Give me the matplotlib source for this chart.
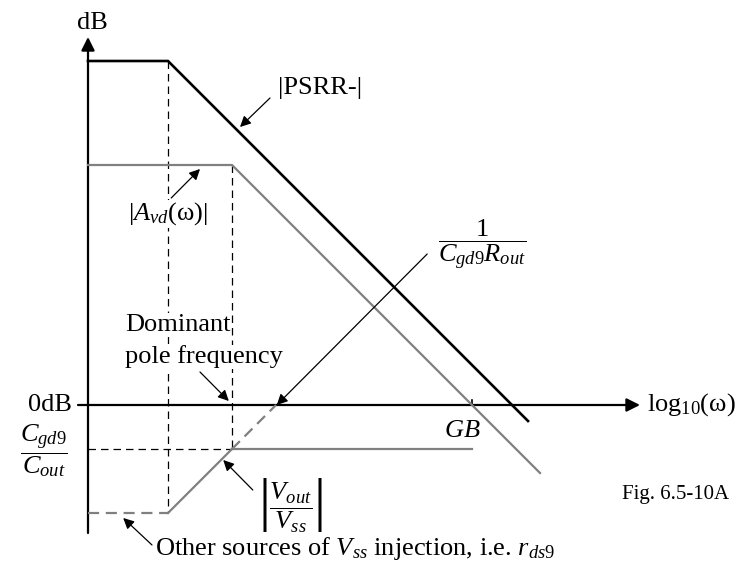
import matplotlib
matplotlib.use("Agg")
import matplotlib.pyplot as plt

plt.rcParams['font.family'] = ['Liberation Serif', 'DejaVu Serif']
plt.rcParams['mathtext.fontset'] = 'custom'
plt.rcParams['mathtext.rm'] = 'Liberation Serif'
plt.rcParams['mathtext.it'] = 'Liberation Serif:italic'
plt.rcParams['mathtext.bf'] = 'Liberation Serif:bold'

# asymptotic bode curves, x = log10(w) in decades, y in dB
psrr_x = [0.0, 1.0, 5.5]
psrr_y = [86, 86, -4]
avd_x = [0.0, 1.8, 5.65]
avd_y = [60, 60, -17]
vss_floor_x = [0.0, 1.0]
vss_floor_y = [-27, -27]
vss_rise_x = [1.0, 1.8]
vss_rise_y = [-27, -11]
vss_flat_x = [1.8, 4.8]
vss_flat_y = [-11, -11]
vss_ext_x = [1.8, 2.35]
vss_ext_y = [-11, 0]
gb = 4.8

gray = '#808080'

fig = plt.figure(figsize=(7.42, 5.65), dpi=100)
ax = fig.add_axes([0, 0, 1, 1])
ax.set_xlim(-1.1, 8.175)
ax.set_ylim(-40, 101.25)
ax.axis('off')

# axes with arrow heads
ax.annotate('', xy=(6.9, 0), xytext=(-0.125, 0),
            arrowprops=dict(arrowstyle='-|>', color='k', lw=1.6,
                            mutation_scale=20, shrinkA=0, shrinkB=0))
ax.annotate('', xy=(0, 92), xytext=(0, -32),
            arrowprops=dict(arrowstyle='-|>', color='k', lw=1.6,
                            mutation_scale=20, shrinkA=0, shrinkB=0))
ax.plot([gb, gb], [0, 1.3], color='k', lw=1.2)

# guide lines
ax.plot([psrr_x[1], psrr_x[1]], [psrr_y[1], vss_floor_y[1]], color='k',
        lw=0.9, dashes=(6, 4), zorder=1)
ax.plot([avd_x[1], avd_x[1]], [avd_y[1], vss_flat_y[0]], color='k',
        lw=0.9, dashes=(6, 4), zorder=1)
ax.plot([0, vss_flat_x[0]], [vss_flat_y[0], vss_flat_y[0]], color='k',
        lw=0.9, dashes=(6, 4), zorder=1)

# curves
ax.plot(psrr_x, psrr_y, color='k', lw=1.9, solid_joinstyle='miter', zorder=3)
ax.plot(avd_x, avd_y, color=gray, lw=1.6, solid_joinstyle='miter', zorder=3)
ax.plot(vss_floor_x, vss_floor_y, color=gray, lw=1.6, dashes=(5, 3), zorder=3)
ax.plot(vss_rise_x, vss_rise_y, color=gray, lw=1.6, zorder=3)
ax.plot(vss_flat_x, vss_flat_y, color=gray, lw=1.6, zorder=3)
ax.plot(vss_ext_x, vss_ext_y, color=gray, lw=1.6, dashes=(5, 3), zorder=3)

fs = 19
white = dict(facecolor='white', edgecolor='none', pad=0.5)


def pointer(start, end):
    ax.annotate('', xy=end, xytext=start,
                arrowprops=dict(arrowstyle='-|>', color='k', lw=0.9,
                                mutation_scale=16, shrinkA=0, shrinkB=0),
                zorder=5)


ax.text(0.05, 95.5, 'dB', fontsize=fs, ha='center', va='center')
ax.text(-0.2, 0, '0dB', fontsize=fs, ha='right', va='center')
ax.text(-0.55, -11.5, r'$\dfrac{C_{gd9}}{C_{out}}$', fontsize=fs,
        ha='center', va='center')
ax.text(6.99, 0, r'$\mathrm{log_{10}(ω)}$', fontsize=fs, ha='left', va='center')
ax.text(4.675, -6.5, r'$GB$', fontsize=fs, ha='center', va='center')
ax.text(6.675, -22.25, 'Fig. 6.5-10A', fontsize=15, ha='left', va='center')

ax.text(2.375, 79.25, '|PSRR-|', fontsize=fs, ha='left', va='center')
pointer((2.275, 76.75), (1.9, 69.5))

ax.text(1.0, 47.75, r'$|A_{vd}(\mathrm{ω})|$', fontsize=fs, ha='center',
        va='center', bbox=white, zorder=4)
pointer((1.04, 51.75), (1.4, 59))

ax.text(4.925, 40, r'$\dfrac{1}{C_{gd9}R_{out}}$', fontsize=fs,
        ha='center', va='center')
pointer((4.24, 37.75), (2.36, 0))

ax.text(0.4625, 20, 'Dominant', fontsize=fs, ha='left', va='center',
        bbox=white, zorder=4)
ax.text(0.4625, 12, 'pole frequency', fontsize=fs, ha='left', va='center',
        bbox=white, zorder=4)
pointer((1.4, 8.25), (1.76, 1))

ax.text(2.125, -25, r'$\left|\dfrac{V_{out}}{V_{ss}}\right|$', fontsize=fs,
        ha='left', va='center')
pointer((2.06, -21.25), (1.69, -13.75))

ax.text(0.84, -36, r'Other sources of $V_{ss}$ injection, i.e. $r_{ds9}$',
        fontsize=fs, ha='left', va='center')
pointer((0.8, -35), (0.44, -28.25))

fig.savefig('out.png', dpi=100)
